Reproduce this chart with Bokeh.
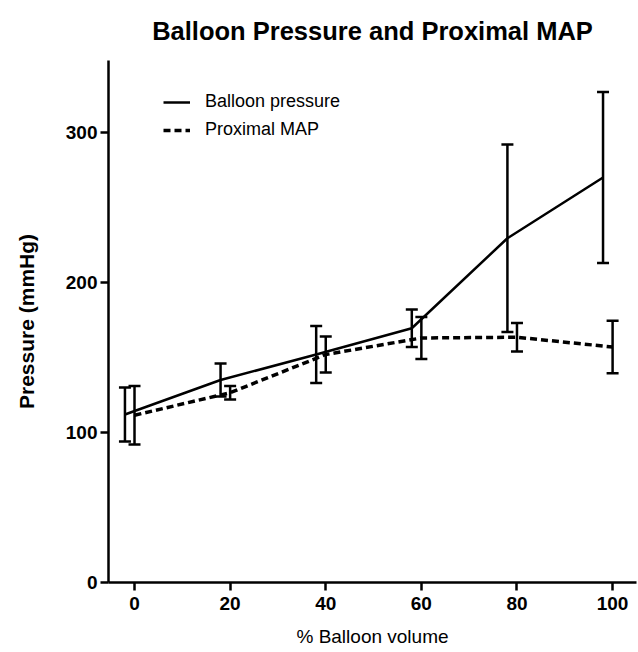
from bokeh.plotting import figure
from bokeh.models import ColumnDataSource, Whisker, TeeHead, Legend, LegendItem, Range1d, FixedTicker
from bokeh.embed import file_html
from bokeh.resources import INLINE

# Data
balloon_x = [-2, 18, 38, 58, 78, 98]
balloon_mean = [112, 135, 152, 169.5, 229.5, 270]
balloon_err = [18, 11, 19, 12.5, 62.5, 57]

map_x = [0, 20, 40, 60, 80, 100]
map_mean = [111.5, 126.5, 152, 163, 163.5, 157]
map_err = [19.5, 4.5, 12, 14, 9.5, 17.5]

x_ticks = [0, 20, 40, 60, 80, 100]
y_ticks = [0, 100, 200, 300]

FONT = "Liberation Sans"

bsrc = ColumnDataSource(dict(x=balloon_x, y=balloon_mean,
                             lo=[m - e for m, e in zip(balloon_mean, balloon_err)],
                             hi=[m + e for m, e in zip(balloon_mean, balloon_err)]))
msrc = ColumnDataSource(dict(x=map_x, y=map_mean,
                             lo=[m - e for m, e in zip(map_mean, map_err)],
                             hi=[m + e for m, e in zip(map_mean, map_err)]))

p = figure(width=638, height=652, output_backend="svg", toolbar_location=None,
           x_range=Range1d(-5.44, 105.0), y_range=Range1d(0, 348),
           min_border_left=108, min_border_right=2, min_border_top=60, min_border_bottom=70)

p.title.text = "Balloon Pressure and Proximal MAP"
p.title.align = "center"
p.title.vertical_align = "top"
p.title.text_font = FONT
p.title.text_font_size = "25.5px"
p.title.text_font_style = "bold"
p.title.text_color = "black"
p.title.standoff = 28

p.grid.visible = False
p.outline_line_color = None
p.background_fill_color = "white"

for ax in (p.xaxis[0], p.yaxis[0]):
    ax.axis_line_width = 2.5
    ax.axis_line_color = "black"
    ax.major_tick_line_width = 2.5
    ax.major_tick_line_color = "black"
    ax.major_tick_out = 8
    ax.major_tick_in = 0
    ax.minor_tick_line_color = None
    ax.major_label_text_font = FONT
    ax.major_label_text_font_size = "19px"
    ax.major_label_text_font_style = "bold"
    ax.major_label_text_color = "black"
    ax.axis_label_text_font = FONT
    ax.axis_label_text_font_size = "21px"
    ax.axis_label_text_color = "black"

p.xaxis.ticker = FixedTicker(ticks=x_ticks)
p.yaxis.ticker = FixedTicker(ticks=y_ticks)
p.xaxis.axis_label = "% Balloon volume"
p.xaxis.axis_label_text_font_style = "normal"
p.xaxis.axis_label_text_font_size = "19px"
p.xaxis.major_label_standoff = 6
p.xaxis.axis_label_standoff = 13
p.yaxis.axis_label = "Pressure (mmHg)"
p.yaxis.axis_label_text_font_style = "bold"
p.yaxis.major_label_standoff = 3
p.yaxis.axis_label_standoff = 25

# Lines
r_b = p.line("x", "y", source=bsrc, line_color="black", line_width=2.5)
r_m = p.line("x", "y", source=msrc, line_color="black", line_width=3.5, line_dash="7 4")

# Error bars
for src in (bsrc, msrc):
    w = Whisker(source=src, base="x", upper="hi", lower="lo",
                line_color="black", line_width=2.5,
                upper_head=TeeHead(size=12, line_width=2.5, line_color="black"),
                lower_head=TeeHead(size=12, line_width=2.5, line_color="black"))
    p.add_layout(w)

legend = Legend(items=[LegendItem(label="Balloon pressure", renderers=[r_b]),
                       LegendItem(label="Proximal MAP", renderers=[r_m])],
                location=(55, 442))
legend.border_line_color = None
legend.background_fill_alpha = 0
legend.padding = 0
legend.margin = 0
legend.spacing = 7
legend.glyph_width = 27
legend.glyph_height = 20
legend.label_standoff = 15
legend.label_text_font = FONT
legend.label_text_font_size = "18px"
legend.label_text_color = "black"
p.add_layout(legend)

open("out.html", "w").write(file_html(p, INLINE))
